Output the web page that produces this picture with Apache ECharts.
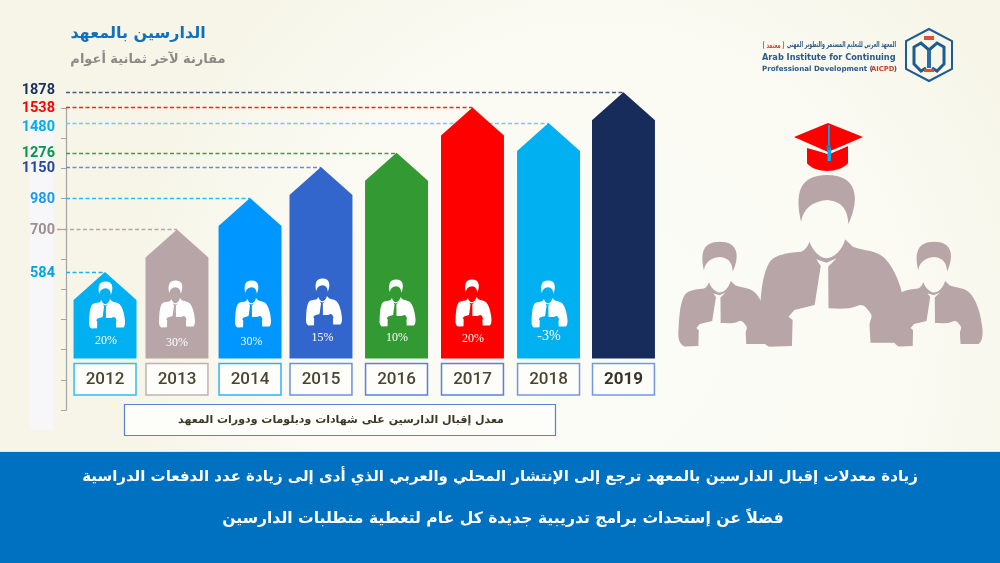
<!DOCTYPE html>
<html><head><meta charset="utf-8">
<style>html,body{margin:0;padding:0;background:#fbfbf4}#c{width:1000px;height:563px}</style>
<script src="https://cdn.jsdelivr.net/npm/echarts@6/dist/echarts.min.js"></script></head>
<body><div id="c"></div>
<script>
// ---- data ----
const years = ['2012','2013','2014','2015','2016','2017','2018','2019'];
const enrolment = [584,700,980,1150,1276,1538,1480,1878];
// bar tip read against the unlabelled tick ladder of the left axis (the source is not linear in enrolment)
const tipOnLadder = [4.57,5.98,7.02,8.05,8.52,10.02,9.50,10.52];
const growth = ['20%','30%','30%','15%','10%','20%','-3%',''];
const ladderTicks = [0,10];
const title = 'الدارسين بالمعهد';
const subtitle = 'مقارنة لآخر ثمانية أعوام';
const caption = 'معدل إقبال الدارسين على شهادات ودبلومات ودورات المعهد';
const note1 = 'زيادة معدلات إقبال الدارسين بالمعهد ترجع إلى الإنتشار المحلي والعربي الذي أدى إلى زيادة عدد الدفعات الدراسية';
const note2 = 'فضلاً عن إستحداث برامج تدريبية جديدة كل عام لتغطية متطلبات الدارسين';

// ---- styling / layout (separate from the data) ----
const barColor  = ['#00b0f0','#b7a5a8','#0096ff','#3366cc','#339933','#ff0000','#00b0f0','#172c5a'];
const boxColor  = ['#33bdf2','#c3b0b2','#33b0f8','#6f8ede','#5c80d8','#5c80d8','#7596e0','#7596e0'];
const lineColor = ['#18b4f2','#b7a5a8','#25bcff','#6a8ad4','#3f9c4e','#ff2020','#6accf6','#46597f'];
const textColor = ['#00a5e0','#a08f92','#1a9bf0','#1f4aa0','#009a48','#ff0000','#00aef0','#17305e'];
const handNudge = [2,-0.1,-1.1,-4.2,-2.7,-0.8,1.2,2.1];   // the source bars were placed by hand
const labelNudge = [1,1,1,1,1,1,4,-2];
const iconNudge = [2,0,3,3,1,1,1,0];
const iconTop = [77,78,78,80,79,79,78,0];
const pctUp = [18,16,17,21,21,20,22,0];
const BASE_RUNG = 1.705, SHOULDER = 28, BAR_FRAC = 0.85;
const AR = '"DejaVu Sans"';

const PERSON_HAIR = 'M-77 140C-95 60-85 0 0 0C85 0 100 65 63 147C60 110 50 80 0 75C-45 80-70 100-77 140Z';
const PERSON_BODY = 'M-52 200C-45 225-20 250-2 250C20 250 45 225 53 193L76 215C110 228 148 225 170 250C200 280 222 340 230 400C238 440 238 490 215 503L128 503L125 450C128 430 135 425 128 415C115 395 105 385 90 392C60 405 30 400 4 400L3 275L28 250L-2 263L-32 253L-19 273L-37 390L-97 405L-114 425L-102 435L-104 513L-172 515C-195 505-205 480-200 430C-195 340-190 300-172 265C-160 245-140 235-77 230C-65 225-58 215-52 200Z';
const PERSON = PERSON_HAIR + PERSON_BODY;

function person(left, top, w, h, fill){
  return {type:'path', shape:{pathData:PERSON, x:left, y:top, width:w, height:h, layout:'cover'}, style:{fill}};
}

function guideItem(params, api){
  const i = params.dataIndex;
  const tip = api.coord([api.value(0), api.value(1)]);
  const x = tip[0] + handNudge[i];
  const axisX = api.coord([0,0])[0] - api.size([1,0])[0]/2;
  const startX = i === 1 ? axisX - 9 : axisX;
  const ly = Math.round(tip[1]) + 0.5;
  return {type:'group', children:[
    {type:'line', shape:{x1:startX,y1:ly,x2:x,y2:ly},
     style:{stroke:lineColor[i],lineWidth:1.3,lineDash:[4,2.5]}},
    {type:'text', style:{text:String(enrolment[i]),x:axisX-11,y:tip[1]+labelNudge[i],align:'right',verticalAlign:'middle',
      fill:textColor[i],font:'700 14.5px Roboto'}}
  ]};
}

function barItem(params, api){
  const i = params.dataIndex;
  const tip = api.coord([api.value(0), api.value(1)]);
  const base = api.coord([api.value(0), BASE_RUNG])[1];
  const cx = tip[0] + handNudge[i];
  const hw = api.size([1,0])[0]*BAR_FRAC/2;
  const kids = [
    {type:'polygon', shape:{points:[[cx-hw,base],[cx-hw,tip[1]+SHOULDER],[cx,tip[1]],[cx+hw,tip[1]+SHOULDER],[cx+hw,base]]},
     style:{fill:barColor[i]}},
    {type:'rect', shape:{x:cx-hw+.5,y:base+5,width:hw*2-1,height:31.5}, style:{fill:'#fdfdf9',stroke:boxColor[i],lineWidth:1.5}},
    {type:'text', style:{text:years[i],x:cx,y:base+21,align:'center',verticalAlign:'middle',
      fill:i===7?'#3a3428':'#4a4432',font:(i===7?'700':'500')+' 17px Roboto'}}
  ];
  if (growth[i]) {
    kids.push(person(cx+iconNudge[i]-18, base-iconTop[i], 36, 47, '#fff'));
    kids.push({type:'text', style:{text:growth[i],x:cx+iconNudge[i]/2,y:base-pctUp[i],align:'center',verticalAlign:'middle',
      fill:'#fff',font:(growth[i][0]==='-'?'14':'12')+'px "Liberation Serif"'}});
  }
  return {type:'group', children:kids};
}

function decorItem(){
  return {type:'group', children:[
    person(678.3,241.7,90,104.7,'#b7a5a8'),
    person(892.6,241.7,90,104.7,'#b7a5a8'),
    person(759,175,147.7,171.7,'#b7a5a8'),
    {type:'path',shape:{pathData:'M807 148L807 163C815 173 839 173 848 163L848 146L829 154Z',x:807,y:146,width:41,height:25,layout:'cover'},style:{fill:'#fd0000'}},
    {type:'polygon',shape:{points:[[794,137],[828,123],[863,137],[828,152]]},style:{fill:'#fd0000'}},
    {type:'polyline',shape:{points:[[808,145.5],[828,153.5],[848,145]]},style:{fill:'none',stroke:'#fbfbf4',lineWidth:1.4}},
    {type:'rect',shape:{x:828,y:125,width:1.8,height:28},style:{fill:'#00a8ec'}},
    {type:'rect',shape:{x:827.5,y:148,width:3.5,height:13},style:{fill:'#00b0f0'}},
    {type:'circle',shape:{cx:828.5,cy:147.5,r:2.2},style:{fill:'#0090d0'}}
  ]};
}

const points = years.map((y,i)=>[y,tipOnLadder[i]]);
const chart = echarts.init(document.getElementById('c'), null, {renderer:'canvas'});
chart.setOption({
  animation:false,
  backgroundColor:{type:'radial',x:0.6,y:0.6,r:0.85,colorStops:[{offset:0,color:'#fcfcf7'},{offset:0.6,color:'#fbfbf4'},{offset:1,color:'#f6f5e8'}]},
  grid:{left:66,width:592.4,top:108,height:302,containLabel:false},
  xAxis:{type:'category',data:years,show:false},
  yAxis:{type:'value',min:ladderTicks[0],max:ladderTicks[1],interval:1,
    axisLabel:{show:false},splitLine:{show:false},
    axisLine:{show:true,lineStyle:{color:'#a3a3a3',width:1.2}},
    axisTick:{show:true,length:5,lineStyle:{color:'#a3a3a3',width:1}}},
  graphic:{elements:[
    {type:'rect',z:-1,shape:{x:30,y:130,width:23,height:300},style:{fill:'#f7f7fa'}},
    {type:'rect',z:1,shape:{x:0,y:452,width:1000,height:111},style:{fill:'#0070c0'}},
    {type:'rect',z:1,shape:{x:0,y:451,width:1000,height:1},style:{fill:'#dfe6e6'}},
    {type:'text',z:3,style:{text:title,x:138,y:34,align:'center',verticalAlign:'middle',fill:'#0f70bd',font:'700 16px '+AR}},
    {type:'text',z:3,style:{text:subtitle,x:148,y:60,align:'center',verticalAlign:'middle',fill:'#8a8a86',font:'700 13px '+AR}},
    {type:'rect',z:3,shape:{x:124.5,y:404.5,width:431,height:31},style:{fill:'#fdfdf9',stroke:'#5a7fd6',lineWidth:1.2}},
    {type:'text',z:4,style:{text:caption,x:341,y:420,align:'center',verticalAlign:'middle',fill:'#3d3826',font:'700 11px '+AR}},
    {type:'text',z:3,style:{text:note1,x:500,y:477,align:'center',verticalAlign:'middle',fill:'#fff',font:'700 15px '+AR}},
    {type:'text',z:3,style:{text:note2,x:503,y:519,align:'center',verticalAlign:'middle',fill:'#fff',font:'700 15.6px '+AR}},
    // logo
    {type:'polygon',z:3,shape:{points:[[929,29],[952,41],[952,69],[929,81],[906,69],[906,41]]},style:{fill:'none',stroke:'#1c5c92',lineWidth:2}},
    {type:'polyline',z:3,shape:{points:[[926,68],[921,71],[914,64],[914,47],[921,43],[929,50],[937,43],[944,47],[944,64],[937,71],[932,68]]},style:{fill:'none',stroke:'#1c5c92',lineWidth:3}},
    {type:'rect',z:3,shape:{x:927,y:50,width:4,height:18},style:{fill:'#2a6ca4'}},
    {type:'rect',z:3,shape:{x:924,y:36,width:10,height:4},style:{fill:'#d9532f'}},
    {type:'rect',z:3,shape:{x:924,y:69,width:10,height:3},style:{fill:'#d9532f'}},
    {type:'text',z:3,x:896,y:45,scaleX:0.58,style:{text:'المعهد العربي للتعليم المستمر والتطوير المهني',x:0,y:0,align:'right',verticalAlign:'middle',fill:'#2a5a86',font:'700 8px '+AR}},
    {type:'text',z:3,x:773.5,y:46,scaleX:0.62,style:{text:'( معتمد )',x:0,y:0,align:'center',verticalAlign:'middle',fill:'#c8452d',font:'700 8px '+AR}},
    {type:'text',z:3,style:{text:'Arab Institute for Continuing',x:762,y:58,align:'left',verticalAlign:'middle',fill:'#2a5a86',font:'700 8.2px "DejaVu Sans"'}},
    {type:'text',z:3,style:{text:'Professional Development (',x:762,y:69,align:'left',verticalAlign:'middle',fill:'#2a5a86',font:'700 7.1px "DejaVu Sans"'}},
    {type:'text',z:3,style:{text:'AICPD',x:871,y:69,align:'left',verticalAlign:'middle',fill:'#c8452d',font:'700 6.8px "DejaVu Sans"'}},
    {type:'text',z:3,style:{text:')',x:897,y:69,align:'right',verticalAlign:'middle',fill:'#2a5a86',font:'700 7.1px "DejaVu Sans"'}}
  ]},
  series:[
    {type:'custom',name:'decor',coordinateSystem:'none',z:1,data:[0],renderItem:decorItem,silent:true},
    {type:'custom',name:'guides',z:2,data:points,encode:{x:0,y:1},renderItem:guideItem,silent:true},
    {type:'custom',name:'enrolment',z:3,data:points,encode:{x:0,y:1},renderItem:barItem,silent:true}
  ]
});
</script></body></html>
